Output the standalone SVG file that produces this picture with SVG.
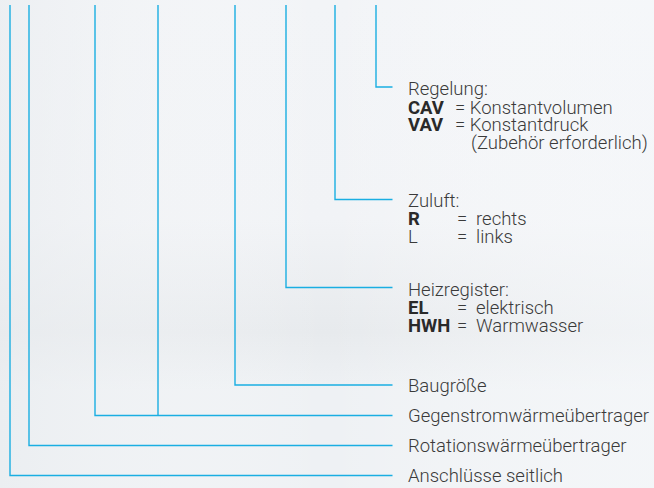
<svg xmlns="http://www.w3.org/2000/svg" width="654" height="488" viewBox="0 0 654 488">
<defs>
<linearGradient id="bg" x1="0" y1="0" x2="0" y2="1">
<stop offset="0" stop-color="#f2f4f7"/>
<stop offset="0.45" stop-color="#f1f3f6"/>
<stop offset="0.68" stop-color="#e7eaed"/>
<stop offset="0.8" stop-color="#eef1f4"/>
<stop offset="1" stop-color="#eef1f4"/>
</linearGradient>
<linearGradient id="hl" x1="0" y1="0" x2="1" y2="0">
<stop offset="0" stop-color="#e9ecef" stop-opacity="0.6"/>
<stop offset="0.5" stop-color="#ffffff" stop-opacity="0"/>
<stop offset="1" stop-color="#f7f9fb" stop-opacity="0.6"/>
</linearGradient>
<style>
.ln{fill:none;stroke:#1aaee2;stroke-width:1.4;stroke-linejoin:miter}
text{font-family:Roboto,"Open Sans","Liberation Sans",sans-serif;font-size:18.5px;font-weight:300;fill:#3a3a3a}
.b{font-weight:700;fill:#2a2a2a}
</style>
</defs>
<rect width="654" height="488" fill="url(#bg)"/>
<rect width="654" height="488" fill="url(#hl)"/>
<g id="connectors">
<polyline class="ln" points="376,5 376,87 392.5,87"/>
<polyline class="ln" points="335,5 335,199.5 392.5,199.5"/>
<polyline class="ln" points="286,5 286,287.5 392.5,287.5"/>
<polyline class="ln" points="235,5 235,385 392.5,385"/>
<polyline class="ln" points="158,5 158,415.5"/>
<polyline class="ln" points="95,5 95,415.5 392.5,415.5"/>
<polyline class="ln" points="29,5 29,445.5 392.5,445.5"/>
<polyline class="ln" points="10,5 10,475.5 392.5,475.5"/>
</g>
<g id="regelung">
<text x="408" y="95">Regelung:</text>
<text x="408" y="113.5" class="b">CAV</text>
<text x="455" y="113.5">= Konstantvolumen</text>
<text x="408" y="131" class="b">VAV</text>
<text x="455" y="131">= Konstantdruck</text>
<text x="471" y="148.5">(Zubehör erforderlich)</text>
</g>
<g id="zuluft">
<text x="408" y="207">Zuluft:</text>
<text x="408" y="225" class="b">R</text>
<text x="457" y="225">=</text>
<text x="476" y="225">rechts</text>
<text x="408" y="243">L</text>
<text x="457" y="243">=</text>
<text x="476" y="243">links</text>
</g>
<g id="heizregister">
<text x="408" y="295.5">Heizregister:</text>
<text x="408" y="313.5" class="b">EL</text>
<text x="457" y="313.5">=</text>
<text x="476" y="313.5">elektrisch</text>
<text x="408" y="331.5" class="b">HWH</text>
<text x="457" y="331.5">=</text>
<text x="476" y="331.5">Warmwasser</text>
</g>
<g id="baugroesse"><text x="408" y="391.5">Baugröße</text></g>
<g id="gegenstrom"><text x="408" y="421.5">Gegenstromwärmeübertrager</text></g>
<g id="rotation"><text x="408" y="451.5">Rotationswärmeübertrager</text></g>
<g id="anschluesse"><text x="408" y="481.5">Anschlüsse seitlich</text></g>
</svg>
